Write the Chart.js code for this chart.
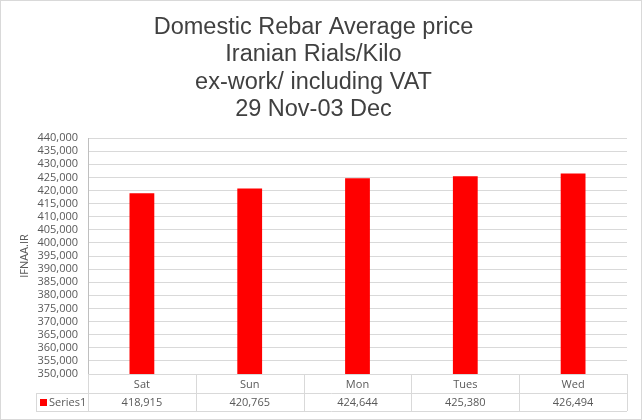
<!DOCTYPE html>
<html>
<head>
<meta charset="utf-8">
<script src="https://cdn.jsdelivr.net/npm/chart.js@4/dist/chart.umd.min.js"></script>
<style>
  html, body { margin: 0; padding: 0; background: #fff; }
  #wrap { width: 642px; height: 420px; }
</style>
</head>
<body>
<div id="wrap"><canvas id="rebarChart" width="642" height="420"></canvas></div>
<script>
// chart data
const categories = ['Sat', 'Sun', 'Mon', 'Tues', 'Wed'];
const prices = [418915, 420765, 424644, 425380, 426494];
const seriesName = 'Series1';
const titleLines = [
    'Domestic Rebar Average price',
    'Iranian Rials/Kilo',
    'ex-work/ including VAT',
    '29 Nov-03 Dec'
];
const axisTitle = 'IFNAA.IR';
const yMin = 350000, yMax = 440000, yStep = 5000;

const fmt = v => v.toLocaleString('en-US');

// border round the whole chart + the data table under the plot
const tablePlugin = {
    id: 'dataTable',
    beforeDraw(chart) {
        const ctx = chart.ctx;
        ctx.save();
        ctx.fillStyle = '#fff';
        ctx.fillRect(0, 0, chart.width, chart.height);
        ctx.restore();
    },
    afterDraw(chart) {
        const ctx = chart.ctx;
        const area = chart.chartArea;
        const xScale = chart.scales.x;
        const n = categories.length;
        const colW = (area.right - area.left) / n;
        const rowH = 19;
        const top = area.bottom;
        const mid = top + rowH;
        const bottom = mid + rowH - 1;
        const legendLeft = 36;

        ctx.save();
        ctx.strokeStyle = '#d9d9d9';
        ctx.lineWidth = 1;
        ctx.beginPath();
        // horizontal lines
        ctx.moveTo(area.left, top + 0.5); ctx.lineTo(area.right, top + 0.5);
        ctx.moveTo(legendLeft, mid + 0.5); ctx.lineTo(area.right, mid + 0.5);
        ctx.moveTo(legendLeft, bottom + 0.5); ctx.lineTo(area.right, bottom + 0.5);
        // vertical lines
        ctx.moveTo(legendLeft + 0.5, mid); ctx.lineTo(legendLeft + 0.5, bottom);
        for (let i = 0; i <= n; i++) {
            const x = Math.round(area.left + i * colW) + 0.5;
            ctx.moveTo(x, top); ctx.lineTo(x, bottom);
        }
        ctx.stroke();

        ctx.font = '11px "Open Sans"';
        ctx.fillStyle = '#595959';
        ctx.textAlign = 'center';
        ctx.textBaseline = 'middle';
        categories.forEach((c, i) => {
            const x = xScale.getPixelForValue(i);
            ctx.fillText(c, x, top + rowH / 2 + 1);
            ctx.fillText(fmt(prices[i]), x, mid + rowH / 2);
        });

        // legend key
        ctx.fillStyle = '#ff0000';
        ctx.fillRect(legendLeft + 4, mid + 6, 7, 7);
        ctx.fillStyle = '#595959';
        ctx.textAlign = 'left';
        ctx.fillText(seriesName, legendLeft + 13, mid + rowH / 2);

        // outer border
        ctx.strokeStyle = '#d9d9d9';
        ctx.strokeRect(0.5, 0.5, chart.width - 1, chart.height - 1);
        ctx.restore();
    }
};

const ctx = document.getElementById('rebarChart').getContext('2d');
new Chart(ctx, {
    type: 'bar',
    data: {
        labels: categories,
        datasets: [{
            label: seriesName,
            data: prices,
            backgroundColor: '#ff0000',
            borderWidth: 0,
            barPercentage: 0.23,
            categoryPercentage: 1
        }]
    },
    options: {
        responsive: false,
        animation: false,
        layout: { padding: { top: 0, right: 15, bottom: 46, left: 0 } },
        plugins: {
            legend: { display: false },
            tooltip: { enabled: false },
            title: {
                display: true,
                text: titleLines,
                color: '#404040',
                font: { family: 'Liberation Sans', size: 23.5, weight: 'normal', lineHeight: 1.16 },
                padding: { top: 14, bottom: 15 }
            }
        },
        scales: {
            x: {
                display: false,
                offset: true
            },
            y: {
                min: yMin,
                max: yMax,
                afterFit(scale) { scale.width = 88; },
                ticks: {
                    stepSize: yStep,
                    autoSkip: false,
                    color: '#595959',
                    font: { family: 'Open Sans', size: 11 },
                    padding: 10,
                    callback: v => fmt(v)
                },
                grid: { color: '#d9d9d9', drawTicks: false },
                border: { color: '#bfbfbf' },
                title: {
                    display: true,
                    text: axisTitle,
                    color: '#595959',
                    font: { family: 'Open Sans', size: 11 },
                    padding: { top: 18, bottom: 0 }
                }
            }
        }
    },
    plugins: [tablePlugin]
});
</script>
</body>
</html>
